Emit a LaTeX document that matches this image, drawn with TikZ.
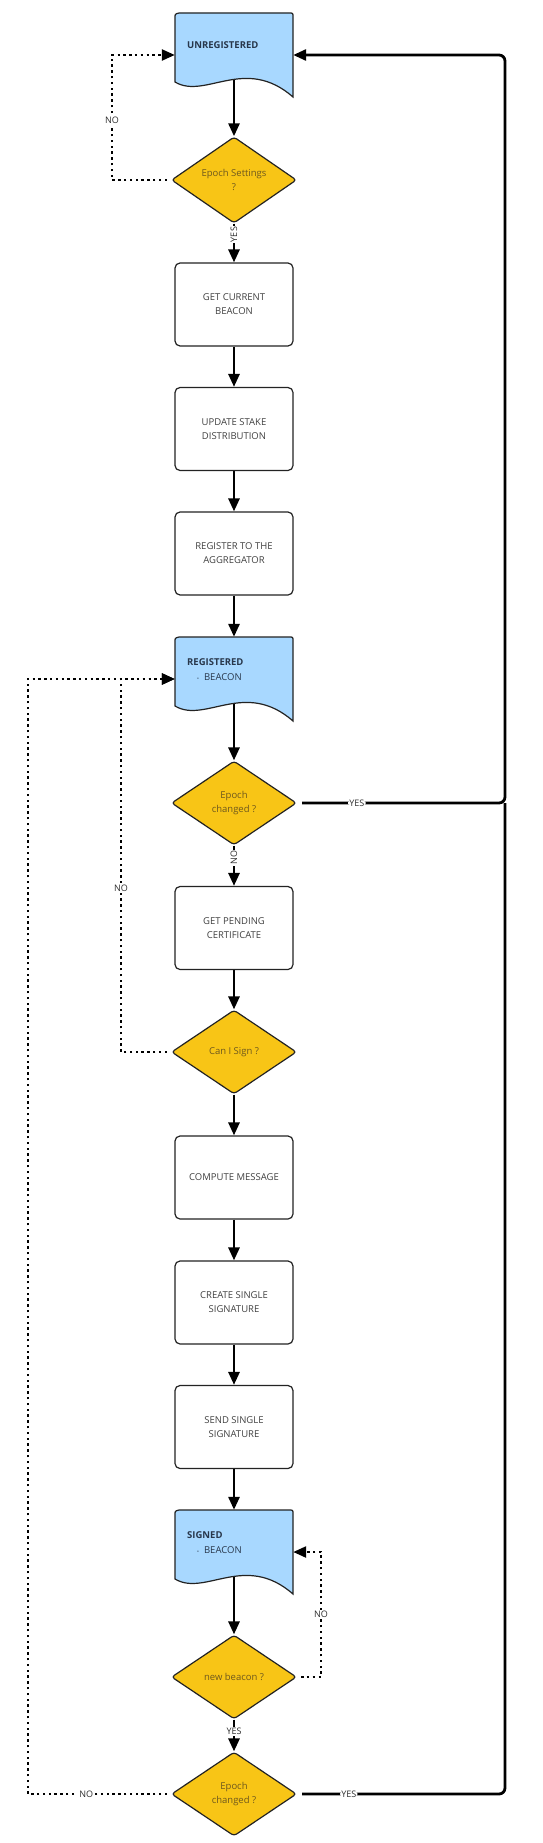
\documentclass[tikz,border=0pt]{standalone}
\usepackage{fontspec}
\setmainfont{Open Sans}
\usetikzlibrary{arrows.meta,shapes.geometric,calc}
\pgfdeclarelayer{bg}
\pgfdeclarelayer{paper}
\pgfsetlayers{paper,bg,main}
\definecolor{docfill}{RGB}{168,216,255}
\definecolor{decfill}{RGB}{248,197,22}
\definecolor{dectext}{RGB}{110,88,30}
\definecolor{boxtext}{RGB}{65,65,65}
\definecolor{doctitle}{RGB}{40,55,75}
\definecolor{edge}{RGB}{35,35,35}
\definecolor{lbltext}{RGB}{45,45,45}
\newcommand\docshape[2]{%
  \filldraw[draw=edge, line width=1.2pt, fill=docfill]
  (#1,#2+69) -- (#1,#2+5) .. controls (#1,#2+1) .. (#1+4,#2) -- (#1+114,#2)
  .. controls (#1+118,#2) .. (#1+118,#2+4) -- (#1+118,#2+84)
  .. controls (#1+70,#2+42) and (#1+30,#2+87) .. (#1,#2+69) -- cycle;}
\begin{document}
\begin{tikzpicture}[x=1pt,y=-1pt,
  every node/.style={font=\fontsize{9.5}{14}\selectfont},
  procbox/.style={draw=edge, line width=1.2pt, rounded corners=5pt, fill=white,
    minimum width=118pt, minimum height=83pt, text=boxtext, align=center, inner sep=0pt},
  decision/.style={diamond, draw=edge, line width=1.2pt, rounded corners=3pt, fill=decfill,
    minimum width=125pt, minimum height=84pt, text=dectext, align=center, inner sep=0pt},
  docanchor/.style={minimum width=118pt, minimum height=84pt, inner sep=0pt},
  doctext/.style={anchor=west, text=doctitle, inner sep=0pt},
  flow/.style={line width=2.8pt, -{Triangle[length=13pt,width=11pt]}},
  rail/.style={line width=2.8pt, rounded corners=6pt},
  dots/.style={line width=2.4pt, dash pattern=on 2.4pt off 3.4pt},
  dotflow/.style={dots, -{Triangle[length=13pt,width=11pt]}},
  lbl/.style={fill=white, inner sep=1.2pt, text=lbltext, font=\fontsize{9}{10}\selectfont},
]
\begin{pgfonlayer}{paper}
\fill[white] (0,0) rectangle (542,1843);
\end{pgfonlayer}
\useasboundingbox (0,0) rectangle (542,1843);

% ---- shapes ----
\node[docanchor] (u) at (234,55) {};
\docshape{175}{13}
\node[doctext] (ut) at (187,45) {\bfseries UNREGISTERED};

\node[decision] (d1) at (234,180) {Epoch Settings\\?};
\node[procbox] (b1) at (234,304.5) {GET CURRENT\\BEACON};
\node[procbox] (b2) at (234,429) {UPDATE STAKE\\DISTRIBUTION};
\node[procbox] (b3) at (234,553.5) {REGISTER TO THE\\AGGREGATOR};

\node[docanchor] (r) at (234,679) {};
\docshape{175}{637}
\node[doctext] (rt) at (187,662) {\bfseries REGISTERED};
\node[doctext] (rb) at (197,677) {{\fontsize{5}{5}\selectfont •}\hspace{5pt}BEACON};

\node[decision] (d2) at (234,803) {Epoch\\changed ?};
\node[procbox] (b4) at (234,928) {GET PENDING\\CERTIFICATE};
\node[decision] (d3) at (234,1052) {Can I Sign ?};
\node[procbox] (b5) at (234,1177.5) {COMPUTE MESSAGE};
\node[procbox] (b6) at (234,1302.5) {CREATE SINGLE\\SIGNATURE};
\node[procbox] (b7) at (234,1427) {SEND SINGLE\\SIGNATURE};

\node[docanchor] (s) at (234,1552) {};
\docshape{175}{1510}
\node[doctext] (st) at (187,1535) {\bfseries SIGNED};
\node[doctext] (sb) at (197,1550) {{\fontsize{5}{5}\selectfont •}\hspace{5pt}BEACON};

\node[decision] (d4) at (234,1677) {new beacon ?};
\node[decision] (d5) at (234,1794) {Epoch\\changed ?};

\coordinate (rx) at (505,0);
\coordinate (lx) at (28,0);

% ---- connectors ----
\begin{pgfonlayer}{bg}
\draw[flow] (u.center) -- (d1.north);
\draw[flow] (d1.south) -- node[lbl, rotate=90, pos=0.28]{YES} (b1.north);
\draw[dotflow] ([xshift=-4pt]d1.west) -- ++(-55,0) |- node[lbl, pos=0.24]{NO} (u.west);
\draw[flow] (b1) -- (b2);
\draw[flow] (b2) -- (b3);
\draw[flow] (b3) -- (r.north);
\draw[flow] (r.center) -- (d2.north);
\draw[flow, rounded corners=6pt] ([xshift=5pt]d2.east) -- node[lbl, pos=0.27]{YES} (rx |- d2.east) -- (rx |- u.east) -- (u.east);
\draw[flow] (d2.south) -- node[lbl, rotate=90, pos=0.3]{NO} (b4.north);
\draw[flow] (b4) -- (d3.north);
\draw[dotflow] ([xshift=-4pt]d3.west) -- ++(-46,0) |- node[lbl, pos=0.22]{NO} (r.west);
\draw[flow] (d3.south) -- (b5.north);
\draw[flow] (b5) -- (b6);
\draw[flow] (b6) -- (b7);
\draw[flow] (b7) -- (s.north);
\draw[flow] (s.center) -- (d4.north);
\draw[dotflow] ([xshift=4pt]d4.east) -- ++(20,0) |- node[lbl, pos=0.25]{NO} (s.east);
\draw[flow] (d4.south) -- node[lbl, pos=0.36]{YES} (d5.north);
\draw[rail] ([xshift=5pt]d5.east) -- node[lbl, pos=0.23]{YES} (rx |- d5.east) -- (rx |- d2.east);
\draw[dotflow] ([xshift=-4pt]d5.west) -- node[lbl, pos=0.58]{NO} (lx |- d5.west) |- (r.west);
\end{pgfonlayer}
\end{tikzpicture}
\end{document}
